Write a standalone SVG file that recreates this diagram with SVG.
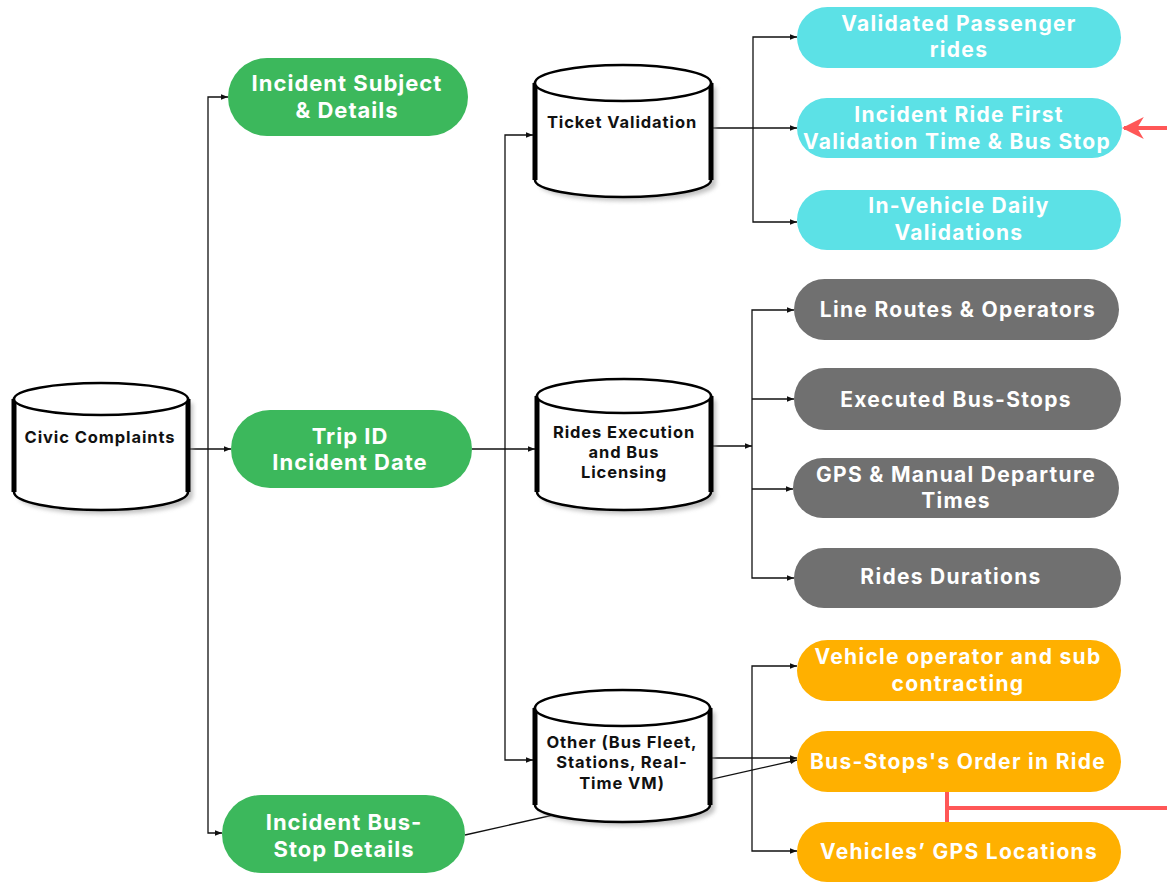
<svg xmlns="http://www.w3.org/2000/svg" width="1167" height="882" viewBox="0 0 1167 882">
<defs>
<style>
.pill text{font-family:Inter,"Liberation Sans",sans-serif;font-weight:700;fill:#fff;text-anchor:middle}
.pt{font-size:21px;letter-spacing:1.3px}
.gt{font-size:22px;letter-spacing:1px}
.green{fill:#3cb85c}
.cyan{fill:#5ce1e6}
.gray{fill:#707070}
.orange{fill:#ffb000}
.cyl text{font-family:Inter,"Liberation Sans",sans-serif;font-weight:700;font-size:16.5px;letter-spacing:0.9px;fill:#111;text-anchor:middle}
.body{fill:#fff;stroke:#000;stroke-width:2.5}
.side{fill:none;stroke:#000;stroke-width:5}
.top{fill:#fff;stroke:#000;stroke-width:2.5}
.shadow{fill:#9a9a9a;opacity:0.6}
.conn{fill:none;stroke:#111;stroke-width:1.3}
.red{fill:none;stroke:#ff5757;stroke-width:4}
</style>
<marker id="ah" viewBox="0 0 10 10" refX="10" refY="5" markerWidth="7" markerHeight="7" markerUnits="userSpaceOnUse" orient="auto">
<path d="M0,1 L10,5 L0,9 z" fill="#111"/>
</marker>
<marker id="rah" viewBox="0 0 10 10" refX="9" refY="5" markerWidth="22" markerHeight="22" markerUnits="userSpaceOnUse" orient="auto">
<path d="M0,0 L10,5 L0,10 L3,5 z" fill="#ff5757"/>
</marker>
<filter id="blur" x="-10%" y="-10%" width="130%" height="130%"><feGaussianBlur stdDeviation="2"/></filter>
</defs>
<rect width="1167" height="882" fill="#fff"/>

<g id="connectors">
<path class="conn" d="M465,835 L797,760" marker-end="url(#ah)"/>
<path class="conn" d="M190,449 L231,449" marker-end="url(#ah)"/>
<path class="conn" d="M208,449 L208,97 L228,97" marker-end="url(#ah)"/>
<path class="conn" d="M208,449 L208,833 L222,833" marker-end="url(#ah)"/>
<path class="conn" d="M472,449 L535,449" marker-end="url(#ah)"/>
<path class="conn" d="M505,449 L505,135 L533,135" marker-end="url(#ah)"/>
<path class="conn" d="M505,449 L505,760 L533,760" marker-end="url(#ah)"/>
<path class="conn" d="M712,128 L797,128" marker-end="url(#ah)"/>
<path class="conn" d="M753,128 L753,37 L797,37" marker-end="url(#ah)"/>
<path class="conn" d="M753,128 L753,222 L797,222" marker-end="url(#ah)"/>
<path class="conn" d="M713,446 L752,446" marker-end="url(#ah)"/>
<path class="conn" d="M752,446 L752,310 L794,310" marker-end="url(#ah)"/>
<path class="conn" d="M752,399 L794,399" marker-end="url(#ah)"/>
<path class="conn" d="M752,489 L793,489" marker-end="url(#ah)"/>
<path class="conn" d="M752,446 L752,578 L794,578" marker-end="url(#ah)"/>
<path class="conn" d="M712,758 L797,758" marker-end="url(#ah)"/>
<path class="conn" d="M752,758 L752,666 L797,666" marker-end="url(#ah)"/>
<path class="conn" d="M752,758 L752,851 L797,851" marker-end="url(#ah)"/>
<path class="red" d="M947,792 L947,822 M947,808 L1169,808 L1169,128 L1124,128" marker-end="url(#rah)"/>
</g>

<g id="civic-complaints" class="cyl">
<path class="shadow" filter="url(#blur)" d="M18,403 L18,496 A87,18 0 0 0 193,496 L193,403 z"/>
<path class="body" d="M14,399 L14,492 A87,18 0 0 0 188,492 L188,399 z"/>
<path class="side" d="M14,399 L14,492 M188,399 L188,492"/>
<ellipse class="top" cx="101" cy="399" rx="87" ry="16"/>
<text x="100" y="443">Civic Complaints</text>
</g>

<g id="ticket-validation" class="cyl">
<path class="shadow" filter="url(#blur)" d="M539,87 L539,184 A88,17 0 0 0 716,184 L716,87 z"/>
<path class="body" d="M535,83 L535,180 A88,17 0 0 0 711,180 L711,83 z"/>
<path class="side" d="M535,83 L535,180 M711,83 L711,180"/>
<ellipse class="top" cx="623" cy="83" rx="88" ry="18"/>
<text x="622" y="128">Ticket Validation</text>
</g>

<g id="rides-execution" class="cyl">
<path class="shadow" filter="url(#blur)" d="M541,400 L541,496 A87,18 0 0 0 716,496 L716,400 z"/>
<path class="body" d="M537,396 L537,492 A87,18 0 0 0 711,492 L711,396 z"/>
<path class="side" d="M537,396 L537,492 M711,396 L711,492"/>
<ellipse class="top" cx="624" cy="396" rx="87" ry="17"/>
<text x="624" y="438">Rides Execution</text>
<text x="624" y="458">and Bus</text>
<text x="624" y="478">Licensing</text>
</g>

<g id="other" class="cyl">
<path class="shadow" filter="url(#blur)" d="M539,712 L539,809 A87.5,17 0 0 0 715,809 L715,712 z"/>
<path class="body" d="M535,708 L535,805 A87.5,17 0 0 0 710,805 L710,708 z"/>
<path class="side" d="M535,708 L535,805 M710,708 L710,805"/>
<ellipse class="top" cx="622.5" cy="708" rx="87.5" ry="18"/>
<text x="622" y="748">Other (Bus Fleet,</text>
<text x="622" y="768">Stations, Real-</text>
<text x="622" y="789">Time VM)</text>
</g>

<g id="incident-subject" class="pill">
<rect class="green" x="228" y="58" width="240" height="78" rx="39"/>
<text class="gt" x="347" y="91">Incident Subject</text>
<text class="gt" x="347" y="118">&amp; Details</text>
</g>
<g id="trip-id" class="pill">
<rect class="green" x="231" y="410" width="241" height="78" rx="39"/>
<text class="gt" x="350" y="444">Trip ID</text>
<text class="gt" x="350" y="470">Incident Date</text>
</g>
<g id="incident-bus-stop" class="pill">
<rect class="green" x="222" y="795" width="243" height="78" rx="39"/>
<text class="gt" x="344" y="830">Incident Bus-</text>
<text class="gt" x="344" y="857">Stop Details</text>
</g>

<g id="validated-passenger-rides" class="pill">
<rect class="cyan" x="797" y="7" width="324" height="61" rx="30.5"/>
<text class="pt" x="959" y="31">Validated Passenger</text>
<text class="pt" x="959" y="57">rides</text>
</g>
<g id="incident-ride-first" class="pill">
<rect class="cyan" x="797" y="98" width="325" height="60" rx="30"/>
<text class="pt" x="959" y="122">Incident Ride First</text>
<text class="pt" x="957" y="149">Validation Time &amp; Bus Stop</text>
</g>
<g id="in-vehicle-daily" class="pill">
<rect class="cyan" x="797" y="190" width="324" height="60" rx="30"/>
<text class="pt" x="959" y="213">In-Vehicle Daily</text>
<text class="pt" x="959" y="240">Validations</text>
</g>

<g id="line-routes" class="pill">
<rect class="gray" x="794" y="279" width="325" height="61" rx="30.5"/>
<text class="pt" x="958" y="317">Line Routes &amp; Operators</text>
</g>
<g id="executed-bus-stops" class="pill">
<rect class="gray" x="794" y="368" width="327" height="62" rx="31"/>
<text class="pt" x="956" y="407">Executed Bus-Stops</text>
</g>
<g id="gps-manual" class="pill">
<rect class="gray" x="793" y="458" width="326" height="60" rx="30"/>
<text class="pt" x="956" y="482">GPS &amp; Manual Departure</text>
<text class="pt" x="956" y="508">Times</text>
</g>
<g id="rides-durations" class="pill">
<rect class="gray" x="794" y="548" width="327" height="60" rx="30"/>
<text class="pt" x="951" y="584">Rides Durations</text>
</g>

<g id="vehicle-operator" class="pill">
<rect class="orange" x="797" y="640" width="324" height="61" rx="30.5"/>
<text class="pt" x="958" y="664">Vehicle operator and sub</text>
<text class="pt" x="958" y="691">contracting</text>
</g>
<g id="bus-stops-order" class="pill">
<rect class="orange" x="797" y="731" width="324" height="61" rx="30.5"/>
<text class="pt" x="958" y="769">Bus-Stops's Order in Ride</text>
</g>
<g id="vehicles-gps" class="pill">
<rect class="orange" x="797" y="822" width="324" height="60" rx="30"/>
<text class="pt" x="959" y="859">Vehicles’ GPS Locations</text>
</g>
</svg>
